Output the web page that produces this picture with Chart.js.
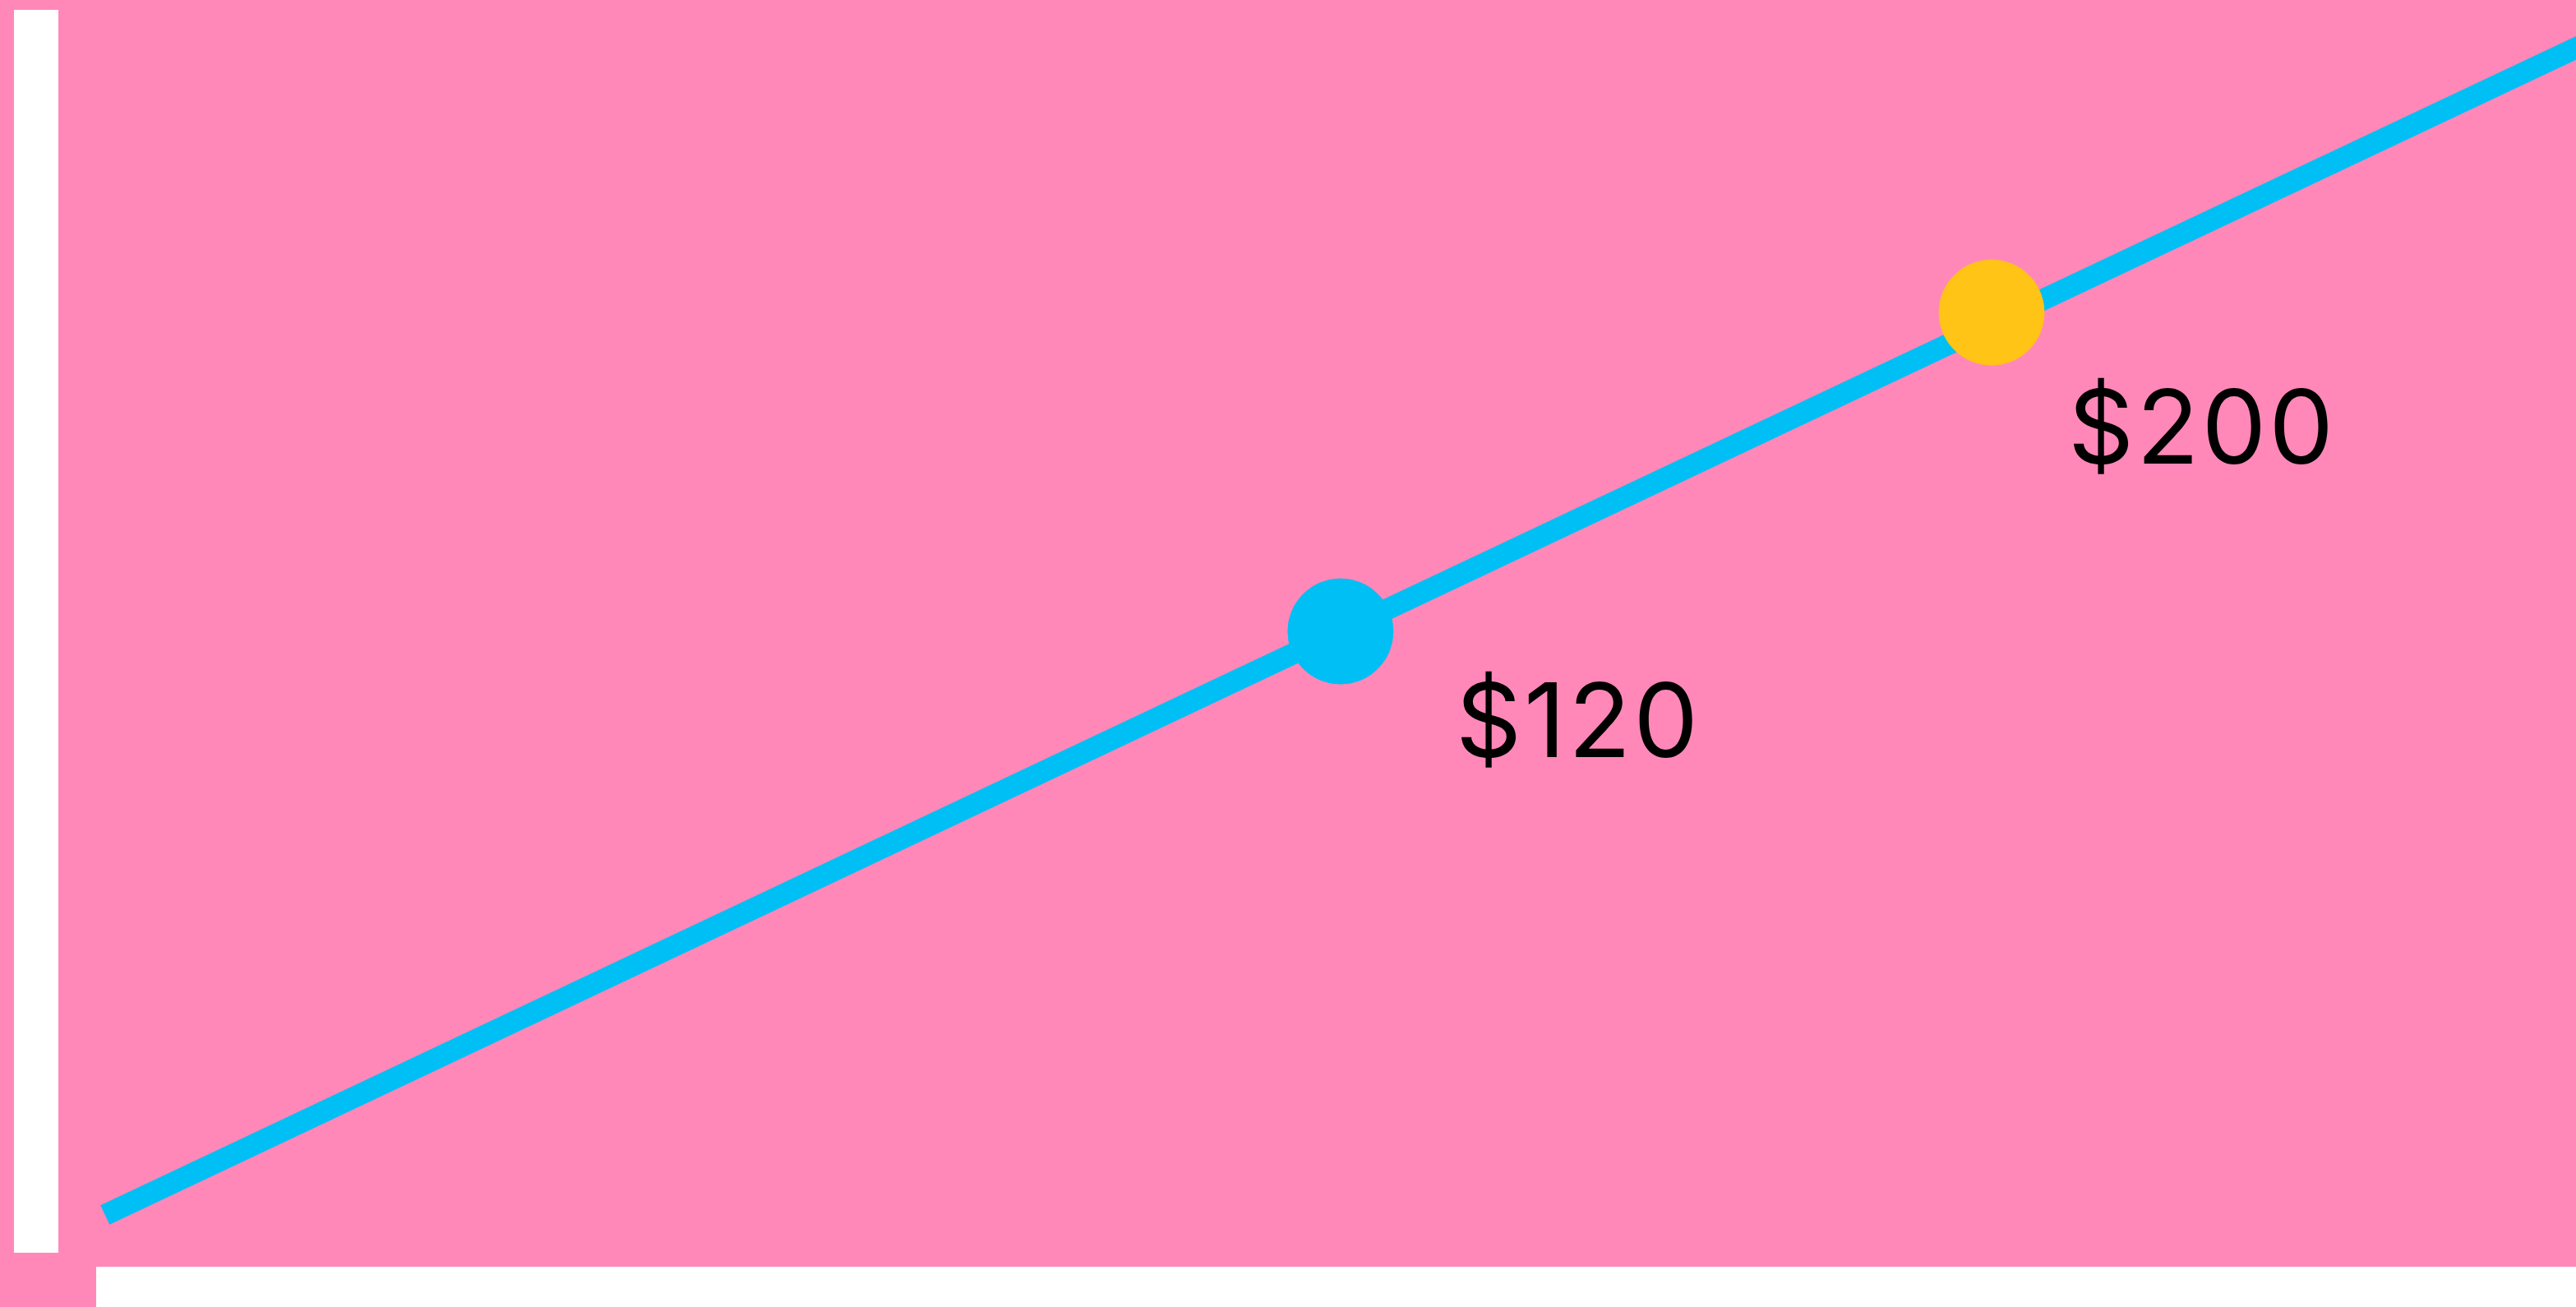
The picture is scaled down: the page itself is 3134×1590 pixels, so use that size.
<!DOCTYPE html>
<html>
<head>
<meta charset="utf-8">
<title>Price line</title>
<script src="https://cdn.jsdelivr.net/npm/chart.js@4.4.1/dist/chart.umd.min.js"></script>
<style>
  html, body { margin: 0; padding: 0; background: #ff88b9; overflow: hidden; }
  #wrap { width: 3134px; height: 1590px; position: relative; }
</style>
</head>
<body>
<div id="wrap"><canvas id="chart" width="3134" height="1590"></canvas></div>
<script>
// ---- Data ----
const trendX = [0, 10, 21];
const trendY = [-26.4, 120, 281];
const markerX = [15.27];
const markerY = [200];
const priceLabels = ['$120', '$200'];

// ---- Colours ----
const PINK = '#ff88b9';
const BLUE = '#00bff4';
const YELLOW = '#ffc416';

// ---- Plugins ----
const frame = {
  id: 'frame',
  beforeDraw(chart) {
    const { ctx, width, height } = chart;
    ctx.save();
    ctx.fillStyle = PINK;
    ctx.fillRect(0, 0, width, height);
    ctx.fillStyle = '#ffffff';
    // vertical axis bar
    ctx.fillRect(17, 12, 54, 1512);
    // horizontal axis bar
    ctx.fillRect(117, 1541, width - 117, height - 1541);
    ctx.restore();
  }
};

const priceTags = {
  id: 'priceTags',
  afterDatasetsDraw(chart) {
    const { ctx } = chart;
    const blue = chart.getDatasetMeta(1).data[1];
    const yellow = chart.getDatasetMeta(0).data[0];
    const spots = [
      { el: blue, dx: 140, dy: 153, text: priceLabels[0] },
      { el: yellow, dx: 93, dy: 184, text: priceLabels[1] },
    ];
    ctx.save();
    ctx.fillStyle = '#000000';
    ctx.font = '400 125px Inter, "DejaVu Sans", sans-serif';
    ctx.letterSpacing = '3px';
    ctx.textAlign = 'left';
    ctx.textBaseline = 'alphabetic';
    spots.forEach(s => ctx.fillText(s.text, s.el.x + s.dx, s.el.y + s.dy));
    ctx.restore();
  }
};

// ---- Chart ----
new Chart(document.getElementById('chart'), {
  type: 'line',
  data: {
    datasets: [
      {
        label: 'Marker',
        data: markerX.map((x, i) => ({ x, y: markerY[i] })),
        showLine: false,
        pointRadius: 64,
        pointBorderWidth: 1,
        pointBackgroundColor: YELLOW,
        pointBorderColor: YELLOW,
      },
      {
        label: 'Price',
        data: trendX.map((x, i) => ({ x, y: trendY[i] })),
        borderColor: BLUE,
        borderWidth: 26,
        borderCapStyle: 'butt',
        tension: 0,
        pointRadius: [0, 64, 0],
        pointBorderWidth: 1,
        pointBackgroundColor: BLUE,
        pointBorderColor: BLUE,
      }
    ]
  },
  options: {
    responsive: false,
    animation: false,
    devicePixelRatio: 1,
    layout: { padding: 0, autoPadding: false },
    plugins: {
      legend: { display: false },
      tooltip: { enabled: false },
    },
    scales: {
      x: { type: 'linear', min: -0.85, max: 20, display: false },
      y: { type: 'linear', min: -49.5, max: 278.4, display: false }
    }
  },
  plugins: [frame, priceTags]
});
</script>
</body>
</html>
